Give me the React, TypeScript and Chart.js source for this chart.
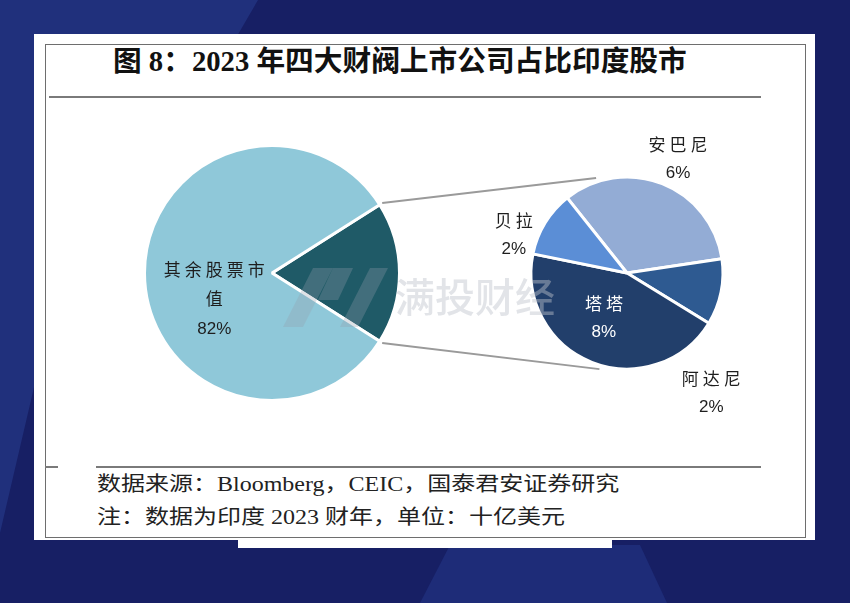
import React, { useEffect, useRef } from 'react';
import { Chart, registerables } from 'chart.js';

Chart.register(...registerables);

// ---- data ----
const leftLabels = ['四大财阀', '其余股票市值'];
const leftValues = [18, 82];
const rightLabels = ['安巴尼', '阿达尼', '塔塔', '贝拉'];
const rightValues = [6, 2, 8, 2];

const titleText = '图 8：2023 年四大财阀上市公司占比印度股市';
const sourceText = '数据来源：Bloomberg，CEIC，国泰君安证券研究';
const noteText = '注：数据为印度 2023 财年，单位：十亿美元';
const watermarkText = '满投财经';

// ---- styles ----
const leftColors = ['#1f5a67', '#8fc8d9'];
const rightColors = ['#93acd5', '#2e5a91', '#223f6b', '#5b8ed6'];

const leftLabelPos = [null, { angle: 154.7, r: 0.5, color: '#1e1e1e' }];
const rightLabelPos = [
  { angle: -65.7, r: 1.29, color: '#1e1e1e' },
  { angle: 55, r: 1.53, color: '#1e1e1e' },
  { angle: 117, r: 0.53, color: '#ffffff' },
  { angle: 198, r: 1.24, color: '#1e1e1e' },
];

const LABEL_FONT = "17px 'Liberation Sans', 'Noto Sans CJK SC'";

function wrap(s: string, n: number): string[] {
  const out: string[] = [];
  for (let i = 0; i < s.length; i += n) out.push(s.slice(i, i + n));
  return out;
}

const sliceLabels = {
  id: 'sliceLabels',
  afterDatasetsDraw(chart: any, _args: any, opts: any) {
    const meta = chart.getDatasetMeta(0);
    const ds = chart.data.datasets[0];
    const ctx = chart.ctx;
    meta.data.forEach((arc: any, i: number) => {
      const p = opts.positions[i];
      if (!p) return;
      const { x, y, outerRadius } = arc.getProps(['x', 'y', 'outerRadius'], true);
      const a = (p.angle * Math.PI) / 180;
      const cx = x + Math.cos(a) * outerRadius * p.r;
      const cy = y + Math.sin(a) * outerRadius * p.r;
      const names = wrap(String(chart.data.labels[i]), opts.maxChars);
      const lines = names.concat(`${ds.data[i]}%`);
      ctx.save();
      ctx.font = LABEL_FONT;
      ctx.fillStyle = p.color;
      ctx.textAlign = 'center';
      ctx.textBaseline = 'middle';
      const lh = opts.lineHeight;
      lines.forEach((ln: string, k: number) => {
        const isName = k < names.length;
        (ctx as any).letterSpacing = isName ? '4px' : '0px';
        ctx.fillText(ln, cx + (isName ? 2 : 0), cy + (k - (lines.length - 1) / 2) * lh);
      });
      ctx.restore();
    });
  },
};

export default function App() {
  const leftRef = useRef<HTMLCanvasElement>(null);
  const rightRef = useRef<HTMLCanvasElement>(null);

  useEffect(() => {
    const left = new Chart(leftRef.current as HTMLCanvasElement, {
      type: 'pie',
      data: {
        labels: leftLabels,
        datasets: [
          {
            data: leftValues,
            backgroundColor: leftColors,
            borderColor: '#ffffff',
            borderWidth: 3,
          },
        ],
      },
      options: {
        animation: false,
        responsive: false,
        rotation: 57.6,
        layout: { padding: { left: 143, right: 449, top: 144, bottom: 201 } },
        plugins: {
          legend: { display: false },
          tooltip: { enabled: false },
          sliceLabels: { positions: leftLabelPos, maxChars: 5, lineHeight: 29 },
        } as any,
      },
      plugins: [sliceLabels],
    });

    const connectors = {
      id: 'connectors',
      beforeDatasetsDraw(chart: any) {
        const la = left.getDatasetMeta(0).data[0] as any;
        const lp = la.getProps(['x', 'y', 'outerRadius', 'startAngle', 'endAngle'], true);
        const ra = chart.getDatasetMeta(0).data[0] as any;
        const rp = ra.getProps(['x', 'y', 'outerRadius'], true);
        const ctx = chart.ctx;
        const rr = rp.outerRadius + 4;
        const lr = lp.outerRadius + 3;
        const t1 = (252 * Math.PI) / 180;
        const t2 = (106 * Math.PI) / 180;
        ctx.save();
        ctx.strokeStyle = '#9a9a9a';
        ctx.lineWidth = 2;
        ctx.beginPath();
        ctx.moveTo(lp.x + Math.cos(lp.startAngle) * lr, lp.y + Math.sin(lp.startAngle) * lr);
        ctx.lineTo(rp.x + Math.cos(t1) * rr, rp.y + Math.sin(t1) * rr);
        ctx.moveTo(lp.x + Math.cos(lp.endAngle) * lr, lp.y + Math.sin(lp.endAngle) * lr);
        ctx.lineTo(rp.x + Math.cos(t2) * rr, rp.y + Math.sin(t2) * rr);
        ctx.stroke();
        ctx.restore();
      },
    };

    const right = new Chart(rightRef.current as HTMLCanvasElement, {
      type: 'pie',
      data: {
        labels: rightLabels,
        datasets: [
          {
            data: rightValues,
            backgroundColor: rightColors,
            borderColor: '#ffffff',
            borderWidth: 3,
          },
        ],
      },
      options: {
        animation: false,
        responsive: false,
        rotation: -38.5,
        layout: { padding: { left: 529.5, right: 125.5, top: 175.5, bottom: 232.5 } },
        plugins: {
          legend: { display: false },
          tooltip: { enabled: false },
          sliceLabels: { positions: rightLabelPos, maxChars: 5, lineHeight: 27 },
        } as any,
      },
      plugins: [connectors, sliceLabels],
    });

    return () => {
      right.destroy();
      left.destroy();
    };
  }, []);

  const abs = (s: React.CSSProperties): React.CSSProperties => ({ position: 'absolute', ...s });
  const footerStyle = abs({
    left: 97,
    font: "20px 'Liberation Serif', 'Noto Sans CJK SC'",
    color: '#222',
    whiteSpace: 'nowrap',
    lineHeight: '26px',
    transform: 'scaleX(1.2)',
    transformOrigin: 'left center',
  });

  return (
    <div
      style={abs({
        left: 0,
        top: 0,
        width: 850,
        height: 603,
        overflow: 'hidden',
        background: '#171f64',
      })}
    >
      {/* background shapes */}
      <div
        style={abs({
          left: 0,
          top: 0,
          width: 850,
          height: 603,
          background: '#20307c',
          clipPath: 'polygon(0 0, 258px 0, 35px 383px, 0 533px)',
        })}
      />
      <div
        style={abs({
          left: 0,
          top: 0,
          width: 850,
          height: 603,
          background: '#1e2c78',
          clipPath: 'polygon(450px 545px, 640px 545px, 667px 603px, 420px 603px)',
        })}
      />
      {/* card */}
      <div style={abs({ left: 34, top: 34, width: 781, height: 506, background: '#ffffff' })} />
      <div style={abs({ left: 238, top: 540, width: 374, height: 8, background: '#ffffff' })} />
      <div
        style={abs({
          left: 45,
          top: 44,
          width: 759,
          height: 492,
          border: '1px solid #6e6e6e',
        })}
      />
      {/* title */}
      <div
        style={abs({
          left: 113,
          top: 43,
          font: "bold 28.7px 'Liberation Serif', 'Noto Sans CJK SC'",
          color: '#111',
          whiteSpace: 'nowrap',
          lineHeight: '36px',
        })}
      >
        {titleText}
      </div>
      <div style={abs({ left: 49, top: 96, width: 712, height: 2, background: '#7a7a7a' })} />
      {/* footer */}
      <div style={abs({ left: 45, top: 466, width: 13, height: 2, background: '#7a7a7a' })} />
      <div style={abs({ left: 96, top: 466, width: 665, height: 2, background: '#7a7a7a' })} />
      <div style={{ ...footerStyle, top: 471 }}>{sourceText}</div>
      <div style={{ ...footerStyle, top: 504 }}>{noteText}</div>
      {/* charts */}
      <canvas ref={leftRef} width={850} height={603} style={abs({ left: 0, top: 0, width: 850, height: 603 })} />
      <canvas ref={rightRef} width={850} height={603} style={abs({ left: 0, top: 0, width: 850, height: 603 })} />
      {/* watermark */}
      <svg width={850} height={603} style={abs({ left: 0, top: 0 })}>
        <polygon points="283,327 313,268 333,268 303,327" fill="rgba(150,158,172,0.3)" />
        <polygon points="318,300 333,268 353,268 338,300" fill="rgba(150,158,172,0.3)" />
        <polygon points="340,327 370,268 388,268 358,327" fill="rgba(150,158,172,0.3)" />
        <text
          x={395}
          y={312}
          fontFamily="'Noto Sans CJK SC'"
          fontWeight={500}
          fontSize={40}
          fill="rgba(190,195,205,0.45)"
        >
          {watermarkText}
        </text>
      </svg>
    </div>
  );
}
